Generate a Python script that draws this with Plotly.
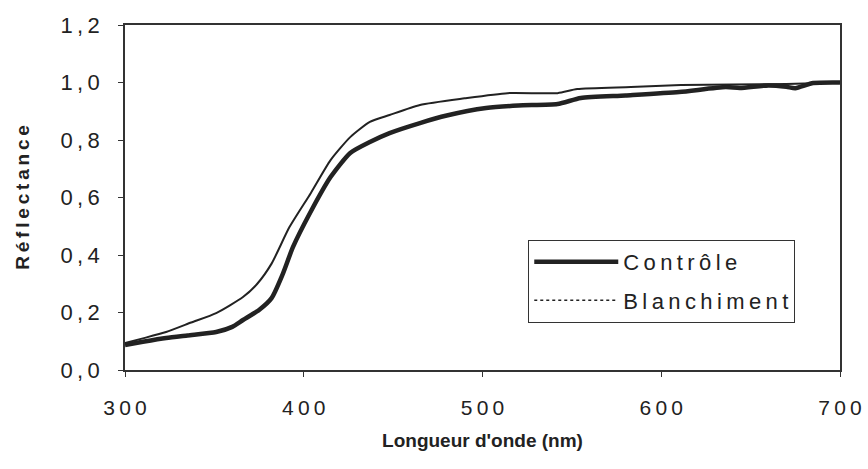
import plotly.graph_objects as go

wl_controle = [300, 310, 323, 335, 351, 360, 366, 375, 382, 388, 394, 403.5, 415, 426, 437, 448, 465, 480, 502, 520, 542, 555, 580, 610, 636, 644, 660, 670, 675, 685, 700]
r_controle = [0.087, 0.098, 0.111, 0.12, 0.132, 0.15, 0.174, 0.209, 0.25, 0.33, 0.428, 0.546, 0.671, 0.755, 0.793, 0.824, 0.859, 0.885, 0.911, 0.92, 0.925, 0.946, 0.955, 0.967, 0.984, 0.981, 0.99, 0.985, 0.98, 0.998, 1.0]

wl_blanch = [300, 310, 323, 337, 351, 366, 374, 382, 392, 404, 415, 426, 437, 448, 465, 490, 514, 542, 553, 583, 611, 640, 670, 700]
r_blanch = [0.094, 0.11, 0.132, 0.165, 0.198, 0.254, 0.3, 0.37, 0.497, 0.616, 0.73, 0.81, 0.863, 0.887, 0.922, 0.945, 0.963, 0.963, 0.977, 0.984, 0.991, 0.993, 0.995, 1.0]

x_ticks = [300, 400, 500, 600, 700]
x_ticktext = ["3\u20090\u20090", "4\u20090\u20090", "5\u20090\u20090", "6\u20090\u20090", "7\u20090\u20090"]
y_ticks = [0.0, 0.2, 0.4, 0.6, 0.8, 1.0, 1.2]
y_ticktext = ["0\u2009,\u20090", "0\u2009,\u20092", "0\u2009,\u20094", "0\u2009,\u20096", "0\u2009,\u20098", "1\u2009,\u20090", "1\u2009,\u20092"]

SP = "\u2009"
name_controle = SP.join("Contrôle")
name_blanch = SP.join("Blanchiment")
x_title = "Longueur d'onde (nm)"
y_title = SP.join("Réflectance")

FONT = "Liberation Sans, Arial, sans-serif"

fig = go.Figure()
fig.add_trace(go.Scatter(x=wl_controle, y=r_controle, mode="lines", name=name_controle, legendgroup="a",
                         line=dict(color="#222222", width=4.5, shape="spline", smoothing=0.6)))
fig.add_trace(go.Scatter(x=wl_blanch, y=r_blanch, mode="lines", name=name_blanch, showlegend=False,
                         line=dict(color="#222222", width=2, shape="spline", smoothing=0.6)))
fig.add_trace(go.Scatter(x=[None], y=[None], mode="lines", name=name_blanch, legendgroup="b",
                         line=dict(color="#222222", width=1.5, dash="dot")))

fig.update_layout(
    width=868, height=469,
    margin=dict(l=125, r=28, t=25, b=99),
    paper_bgcolor="white", plot_bgcolor="white",
    font=dict(family=FONT, size=21, color="#222222"),
    showlegend=True,
    legend=dict(x=0.564, y=0.377, xanchor="left", yanchor="top",
                bordercolor="#333333", borderwidth=1, bgcolor="white",
                font=dict(size=22, family=FONT), itemwidth=84,
                tracegroupgap=7),
    xaxis=dict(range=[300, 700], tickvals=x_ticks, ticktext=x_ticktext, ticks="outside", ticklen=5,
               tickcolor="#333333", showgrid=False, zeroline=False, automargin=False,
               showline=True, linecolor="#333333", linewidth=1.5, mirror=True,
               tickfont=dict(size=21, family=FONT), ticklabelstandoff=13,
               title=dict(text="<b>" + x_title + "</b>", font=dict(size=19, family=FONT), standoff=16)),
    yaxis=dict(range=[0, 1.2], tickvals=y_ticks, ticktext=y_ticktext, ticks="outside", ticklen=5,
               tickcolor="#333333", showgrid=False, zeroline=False, automargin=False,
               showline=True, linecolor="#333333", linewidth=1.5, mirror=True,
               tickfont=dict(size=22, family=FONT), ticklabelstandoff=14,
               title=dict(text="<b>" + y_title + "</b>", font=dict(size=19, family=FONT), standoff=26)),
)

fig.write_html("out.html")
